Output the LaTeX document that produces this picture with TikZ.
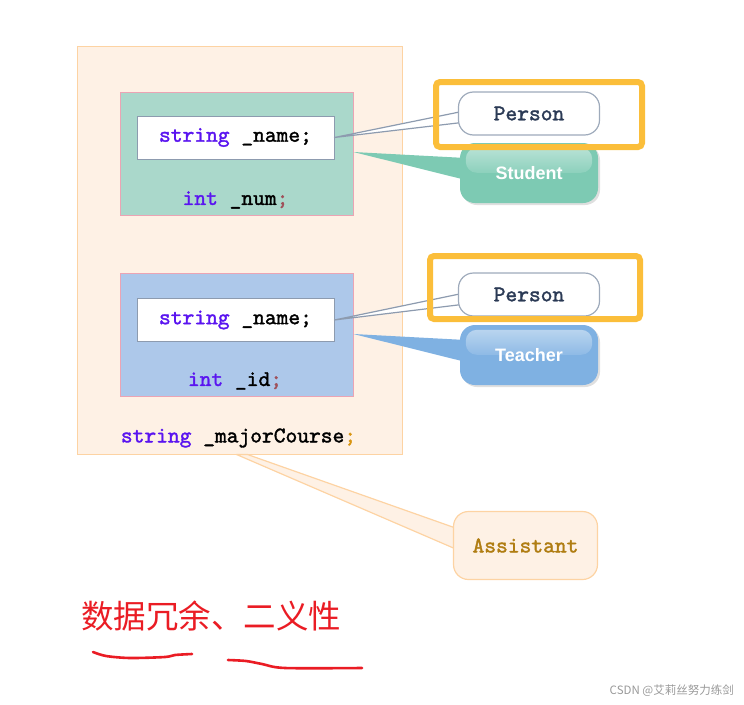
\documentclass[tikz,border=0pt]{standalone}
\usepackage{fontspec}
\setmainfont{Liberation Sans}
\setsansfont{Liberation Sans}
\newfontfamily\cjk{Noto Sans CJK SC}
\newfontfamily\codefam[FakeBold=1.6]{lmmono10-regular.otf}
\usetikzlibrary{calc,shadows}

\definecolor{outerFill}{HTML}{FEF1E5}
\definecolor{outerLine}{HTML}{FDD3A3}
\definecolor{stuFill}{HTML}{AAD8CB}
\definecolor{teaFill}{HTML}{ADC8EA}
\definecolor{pinkLine}{HTML}{EBA4B4}
\definecolor{grayLine}{HTML}{8D9BAF}
\definecolor{personText}{HTML}{2B3A55}
\definecolor{studentFill}{HTML}{7DCAB3}
\definecolor{teacherFill}{HTML}{7FB1E2}
\definecolor{markOrange}{HTML}{FBBE3A}
\definecolor{asstText}{HTML}{B07D12}
\definecolor{kwPurple}{HTML}{5A14F0}
\definecolor{semiRed}{HTML}{A0505A}
\definecolor{semiOrange}{HTML}{D99512}
\definecolor{noteRed}{HTML}{EA1C24}

\newcommand\kwd[1]{\textcolor{kwPurple}{#1}}
\newcommand\codefont{\codefam\bfseries\fontsize{22.4}{24}\selectfont}

\pgfdeclarelayer{front}
\pgfsetlayers{main,front}

\tikzset{
  classbox/.style={draw=pinkLine,line width=0.8pt,minimum width=233pt,minimum height=123pt},
  namebox/.style={draw=grayLine,fill=white,line width=0.8pt,minimum width=197pt,minimum height=43pt,font=\codefont},
  codetext/.style={font=\codefont,inner sep=0pt},
  personcall/.style={draw=grayLine!85!white,fill=white,line width=1.2pt,rounded corners=15pt,
    minimum width=141pt,minimum height=43pt,font=\codefont,text=personText},
  rolecall/.style={rounded corners=15pt,minimum width=138pt,minimum height=60pt,
    drop shadow={shadow xshift=2pt,shadow yshift=-2pt,opacity=.25}},
  roletext/.style={font=\sffamily\bfseries\fontsize{18}{20}\selectfont,text=white},
  markbox/.style={draw=markOrange,line width=6pt,rounded corners=4pt},
  tail/.style={line width=1.2pt,line join=round},
}

\begin{document}
\begin{tikzpicture}[x=1pt,y=-1pt]
\useasboundingbox (0,0) rectangle (744,704);

% 外框 Assistant
\node[draw=outerLine,fill=outerFill,line width=1pt,minimum width=325pt,minimum height=408pt] (asst) at (239.5,250) {};

% Student
\node[classbox,fill=stuFill] (stu) at (236.5,153.5) {};
\node[namebox] (stuname) at (235.5,137.5) {\kwd{string} \_name;};
\node[codetext] (num) at (235.5,200) {\kwd{int} \_num\textcolor{semiRed}{;}};

% Teacher
\node[classbox,fill=teaFill] (tea) at (236.5,334.5) {};
\node[namebox] (teaname) at (235.5,320) {\kwd{string} \_name;};
\node[codetext] (id) at (235,381) {\kwd{int} \_id\textcolor{semiRed}{;}};

\node[codetext] (major) at (238.5,438) {\kwd{string} \_majorCourse\textcolor{semiOrange}{;}};

% 标注
\begin{pgfonlayer}{front}
\node[personcall] (person1) at (529,113.5) {Person};
\node[rolecall,fill=studentFill] (student) at (529,173) {};
\shade[top color=studentFill!55!white,bottom color=studentFill!88!white,rounded corners=11pt]
  ($(student.north west)+(6,5)$) rectangle ($(student.north east)+(-6,30)$);
\node[roletext] at (student) {Student};

\node[personcall] (person2) at (529,294.5) {Person};
\node[rolecall,fill=teacherFill] (teacher) at (529,355) {};
\shade[top color=teacherFill!55!white,bottom color=teacherFill!88!white,rounded corners=11pt]
  ($(teacher.north west)+(6,5)$) rectangle ($(teacher.north east)+(-6,30)$);
\node[roletext] at (teacher) {Teacher};

\node[draw=outerLine,fill=outerFill,line width=1.2pt,rounded corners=15pt,minimum width=144pt,minimum height=68pt,
  font=\codefont,text=asstText] (assistant) at (525.5,545.5) {Assistant};

% 橙色方框
\node[markbox,minimum width=206pt,minimum height=65pt] (mark1) at (539,114.5) {};
\node[markbox,minimum width=210pt,minimum height=63pt] (mark2) at (535,287.5) {};
\end{pgfonlayer}

% 尖角
\filldraw[tail,draw=grayLine,fill=white] (stuname.east) -- ($(person1.west)+(4,-2)$) -- ($(person1.west)+(4,9)$) -- cycle;
\fill[studentFill] (stu.east |- 0,152) -- ($(student.west)+(6,-15)$) -- ($(student.west)+(6,7)$) -- cycle;
\filldraw[tail,draw=grayLine,fill=white] (teaname.east) -- ($(person2.west)+(4,-1)$) -- ($(person2.west)+(4,10)$) -- cycle;
\fill[teacherFill] (tea.east |- 0,334) -- ($(teacher.west)+(6,-15)$) -- ($(teacher.west)+(6,7)$) -- cycle;
\filldraw[tail,draw=outerLine,fill=outerFill] ($(asst.south)+(8,0)$) -- ($(assistant.west)+(4,-17)$)
  -- ($(assistant.west)+(4,4)$) -- ($(asst.south)+(-3,0)$) -- cycle;

% 说明
\node[font=\cjk\fontsize{32.5}{35}\selectfont,text=noteRed,inner sep=0pt] (note) at (211,616) {数据冗余、二义性};
\draw[noteRed,line width=2.6pt,line cap=round] plot[smooth] coordinates {(93,652) (106,656) (130,658) (165,657) (175,655) (192,654)};
\draw[noteRed,line width=2.6pt,line cap=round] plot[smooth] coordinates {(228,660) (246,661) (262,664) (285,668) (362,668)};

\node[font=\cjk\fontsize{11.5}{13}\selectfont,text=black!40,inner sep=0pt,anchor=east] (mark) at (734,691) {CSDN @艾莉丝努力练剑};

\end{tikzpicture}
\end{document}
